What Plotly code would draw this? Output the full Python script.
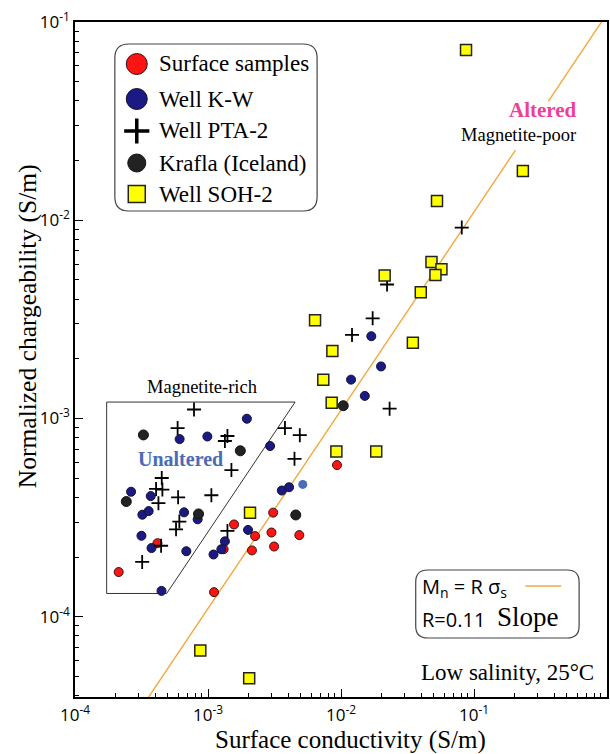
import plotly.graph_objects as go

# ---- data: surface conductivity (S/m) vs normalized chargeability (S/m) ----
surface_sigma = [9.33e-3, 4.17e-4, 1.57e-3, 3.09e-3, 2.26e-3, 3.00e-3, 4.86e-3,
                 2.14e-3, 3.14e-3, 1.31e-3, 2.13e-4, 1.11e-3]
surface_mn = [5.82e-4, 2.35e-4, 2.92e-4, 3.35e-4, 2.55e-4, 2.66e-4, 2.58e-4,
              2.16e-4, 2.26e-4, 2.19e-4, 1.68e-4, 1.33e-4]

kw_sigma = [1.96e-3, 6.12e-4, 9.89e-4, 2.93e-3, 2.64e-4, 3.71e-4, 3.59e-3, 4.07e-3,
            3.21e-4, 3.58e-4, 6.61e-4, 8.36e-4, 3.16e-4, 3.76e-4, 6.87e-4, 2.00e-3,
            1.34e-3, 1.26e-3, 1.10e-3, 4.47e-4, 1.69e-2, 2.00e-2, 1.19e-2, 1.51e-2]
kw_mn = [9.97e-4, 7.87e-4, 8.11e-4, 7.26e-4, 4.27e-4, 4.06e-4, 4.33e-4, 4.50e-4,
         3.27e-4, 3.41e-4, 3.36e-4, 3.10e-4, 2.56e-4, 2.22e-4, 2.14e-4, 2.74e-4,
         2.40e-4, 2.19e-4, 2.06e-4, 1.35e-4, 2.60e-3, 1.83e-3, 1.57e-3, 1.30e-3]

kw_extra_sigma = [5.16e-3]
kw_extra_mn = [4.65e-4]

pta_sigma = [7.85e-4, 5.91e-4, 1.40e-3, 1.34e-3, 1.50e-3, 4.49e-4, 4.07e-4, 4.54e-4,
             5.96e-4, 1.06e-3, 4.24e-4, 6.09e-4, 5.75e-4, 1.40e-3, 4.44e-4, 3.20e-4,
             3.79e-3, 4.90e-3, 4.47e-3, 2.22e-2, 1.73e-2, 1.21e-2, 2.32e-2, 8.09e-2]
pta_mn = [1.11e-3, 8.95e-4, 8.16e-4, 7.70e-4, 5.49e-4, 5.01e-4, 4.41e-4, 4.38e-4,
          4.00e-4, 4.10e-4, 3.74e-4, 3.02e-4, 2.76e-4, 2.71e-4, 2.28e-4, 1.89e-4,
          8.95e-4, 8.24e-4, 6.26e-4, 4.74e-3, 3.20e-3, 2.64e-3, 1.12e-3, 9.18e-3]

krafla_sigma = [3.27e-4, 1.75e-3, 2.43e-4, 8.49e-4, 4.57e-3, 1.04e-2]
krafla_mn = [8.26e-4, 6.87e-4, 3.81e-4, 3.30e-4, 3.26e-4, 1.16e-3]

soh_sigma = [2.13e-2, 4.79e-2, 5.69e-2, 5.13e-2, 3.98e-2, 6.38e-3, 3.47e-2, 8.61e-3,
             7.36e-3, 8.51e-3, 9.23e-3, 1.84e-2, 2.07e-3, 8.71e-2, 0.233, 5.27e-2,
             8.75e-4, 2.04e-3]
soh_mn = [5.26e-3, 6.15e-3, 5.66e-3, 5.29e-3, 4.33e-3, 3.13e-3, 2.41e-3, 2.19e-3,
          1.57e-3, 1.20e-3, 6.82e-4, 6.82e-4, 3.35e-4, 7.23e-2, 1.77e-2, 1.25e-2,
          6.76e-5, 4.89e-5]

# linear relation Mn = R * sigma_s
R_SLOPE = 0.11
fit_sigma = [1e-4, 0.205, None, 0.363, 1.0]
fit_mn = [None if s is None else R_SLOPE * s for s in fit_sigma]

# magnetite-rich domain outline
rich_sigma = [1.73e-4, 4.52e-3, 4.89e-4, 1.73e-4, 1.73e-4]
rich_mn = [1.21e-3, 1.21e-3, 1.31e-4, 1.31e-4, 1.21e-3]

x_tickvals = [1e-4, 1e-3, 1e-2, 1e-1, 1]
x_ticktext = ["10<sup>-4</sup>", "10<sup>-3</sup>", "10<sup>-2</sup>",
              "10<sup>-1</sup>", "10<sup>0</sup>"]
y_tickvals = [1e-4, 1e-3, 1e-2, 1e-1]
y_ticktext = ["10<sup>-4</sup>", "10<sup>-3</sup>", "10<sup>-2</sup>", "10<sup>-1</sup>"]

X_RANGE = [-4, 0]
Y_RANGE = [-4.405, -1.0]

# intermediate log ticks (2..9 x each decade)
minor_vals = [k * 10.0 ** e for e in range(-5, 0) for k in range(2, 10)]

# ---- colours / fonts ----
RED = "#FF1414"
NAVY = "#1B1A84"
STEEL = "#4A6BB5"
DARK = "#222222"
YELLOW = "#FFFF00"
ORANGE = "#F2A93B"
PINK = "#EE3F98"
SERIF = "Liberation Serif"
SANS = "Open Sans"

W, H = 610, 754
L, R, T, B = 75, 1, 22, 57
PX0, PX1, PY0, PY1 = L, W - R, T, H - B


def fx(px):
    return (px - PX0) / (PX1 - PX0)


def fy(py):
    return (PY1 - py) / (PY1 - PY0)


def rounded_box(x0, y0, x1, y1, r):
    rx = r / (PX1 - PX0)
    ry = r / (PY1 - PY0)
    a, b, c, d = fx(x0), fy(y1), fx(x1), fy(y0)  # left, bottom, right, top
    return (f"M {a + rx},{b} L {c - rx},{b} Q {c},{b} {c},{b + ry} "
            f"L {c},{d - ry} Q {c},{d} {c - rx},{d} L {a + rx},{d} "
            f"Q {a},{d} {a},{d - ry} L {a},{b + ry} Q {a},{b} {a + rx},{b} Z")


fig = go.Figure()

fig.add_trace(go.Scatter(x=rich_sigma, y=rich_mn, mode="lines",
                         line=dict(color="#333333", width=1), hoverinfo="skip"))
fig.add_trace(go.Scatter(x=fit_sigma, y=fit_mn, mode="lines",
                         line=dict(color=ORANGE, width=1.4), connectgaps=False,
                         hoverinfo="skip"))

fig.add_trace(go.Scatter(x=surface_sigma, y=surface_mn, mode="markers", name="Surface samples",
                         marker=dict(symbol="circle", size=9, color=RED,
                                     line=dict(color="#3a1010", width=1))))
fig.add_trace(go.Scatter(x=kw_sigma, y=kw_mn, mode="markers", name="Well K-W",
                         marker=dict(symbol="circle", size=9, color=NAVY,
                                     line=dict(color="#111133", width=1))))
fig.add_trace(go.Scatter(x=kw_extra_sigma, y=kw_extra_mn, mode="markers",
                         marker=dict(symbol="circle", size=9, color=STEEL,
                                     line=dict(color=STEEL, width=0))))
fig.add_trace(go.Scatter(x=krafla_sigma, y=krafla_mn, mode="markers", name="Krafla (Iceland)",
                         marker=dict(symbol="circle", size=10, color=DARK,
                                     line=dict(color="#111111", width=1))))
fig.add_trace(go.Scatter(x=pta_sigma, y=pta_mn, mode="markers", name="Well PTA-2",
                         marker=dict(symbol="cross-thin", size=10, color="black",
                                     line=dict(color="black", width=1.8))))
fig.add_trace(go.Scatter(x=soh_sigma, y=soh_mn, mode="markers", name="Well SOH-2",
                         marker=dict(symbol="square", size=11, color=YELLOW,
                                     line=dict(color="#222222", width=1.5))))

# invisible anchor trace so the minor-tick axes get drawn
fig.add_trace(go.Scatter(x=[1e-3], y=[1e-3], mode="markers", xaxis="x3", yaxis="y3",
                         marker=dict(size=1, opacity=0), hoverinfo="skip"))

# ---- legend glyphs drawn on an overlay axis spanning the plot area ----
leg_rows = [64, 99, 131, 163, 194]
leg_labels = ["Surface samples", "Well K-W", "Well PTA-2", "Krafla (Iceland)", "Well SOH-2"]
leg_markers = [
    dict(symbol="circle", size=21, color=RED, line=dict(color="#3a1010", width=1)),
    dict(symbol="circle", size=21, color=NAVY, line=dict(color="#111133", width=1)),
    dict(symbol="cross-thin", size=18, color="black", line=dict(color="black", width=3.5)),
    dict(symbol="circle", size=18, color=DARK, line=dict(color="#111111", width=1)),
    dict(symbol="square", size=17, color=YELLOW, line=dict(color="#222222", width=1.5)),
]
for row, mk in zip(leg_rows, leg_markers):
    fig.add_trace(go.Scatter(x=[fx(137)], y=[fy(row)], mode="markers", marker=mk,
                             xaxis="x2", yaxis="y2", hoverinfo="skip", cliponaxis=False))

fig.add_trace(go.Scatter(x=[fx(527), fx(563)], y=[fy(586), fy(586)], mode="lines",
                         line=dict(color=ORANGE, width=1.5), xaxis="x2", yaxis="y2",
                         hoverinfo="skip"))

shapes = [
    dict(type="path", xref="paper", yref="paper", path=rounded_box(115, 44, 318, 211, 14),
         line=dict(color="#444444", width=1.2), fillcolor="rgba(0,0,0,0)"),
    dict(type="path", xref="paper", yref="paper", path=rounded_box(417, 570, 581, 638, 12),
         line=dict(color="#444444", width=1.2), fillcolor="rgba(0,0,0,0)"),
]

annotations = []
for row, lab in zip(leg_rows, leg_labels):
    annotations.append(dict(x=fx(157), y=fy(row), xref="paper", yref="paper", text=lab,
                            xanchor="left", yanchor="middle", showarrow=False,
                            font=dict(family=SERIF, size=23, color="black")))


def note(px, py, text, size, color="black", family=SERIF, anchor="center", angle=0):
    annotations.append(dict(x=fx(px), y=fy(py), xref="paper", yref="paper", text=text,
                            xanchor=anchor, yanchor="middle", showarrow=False,
                            textangle=angle, font=dict(family=family, size=size, color=color)))


note(545, 110, "<b>Altered</b>", 21, PINK)
note(520, 135, "Magnetite-poor", 18.5)
note(202, 387, "Magnetite-rich", 18.5)
note(181, 459, "<b>Unaltered</b>", 20, STEEL)
note(421, 587, "M<sub>n</sub> = R σ<sub>s</sub>", 20, family=SANS, anchor="left")
note(421, 619, "R=0.11", 20, family=SANS, anchor="left")
note(497, 617, "Slope", 27, anchor="left")
note(509, 672, "Low salinity, 25°C", 23)
note(352, 740, "Surface conductivity (S/m)", 25)
note(27, 326, "Normalized chargeability (S/m)", 25.5, angle=-90)

axis_common = dict(type="log", showgrid=False, zeroline=False, ticks="inside",
                   ticklen=8, tickwidth=1.2, tickcolor="black", showline=True,
                   linecolor="black", linewidth=1.5, mirror=True,
                   tickmode="array",
                   tickfont=dict(family=SANS, size=17, color="black"))

minor_common = dict(type="log", showgrid=False, zeroline=False, ticks="inside",
                    ticklen=4, tickwidth=1, tickcolor="black", showline=False,
                    showticklabels=False, tickmode="array", tickvals=minor_vals,
                    fixedrange=True)

fig.update_layout(
    width=W, height=H,
    margin=dict(l=L, r=R, t=T, b=B, pad=0),
    paper_bgcolor="white", plot_bgcolor="white",
    showlegend=False,
    xaxis=dict(range=X_RANGE, tickvals=x_tickvals, ticktext=x_ticktext,
               ticklabelstandoff=2, **axis_common),
    yaxis=dict(range=Y_RANGE, tickvals=y_tickvals, ticktext=y_ticktext, **axis_common),
    xaxis2=dict(overlaying="x", anchor="y2", range=[0, 1], visible=False, fixedrange=True),
    yaxis2=dict(overlaying="y", anchor="x2", range=[0, 1], visible=False, fixedrange=True),
    xaxis3=dict(overlaying="x", anchor="y3", side="bottom", range=X_RANGE, **minor_common),
    yaxis3=dict(overlaying="y", anchor="x3", side="left", range=Y_RANGE, **minor_common),
    shapes=shapes,
    annotations=annotations,
)

fig.write_html("out.html")
